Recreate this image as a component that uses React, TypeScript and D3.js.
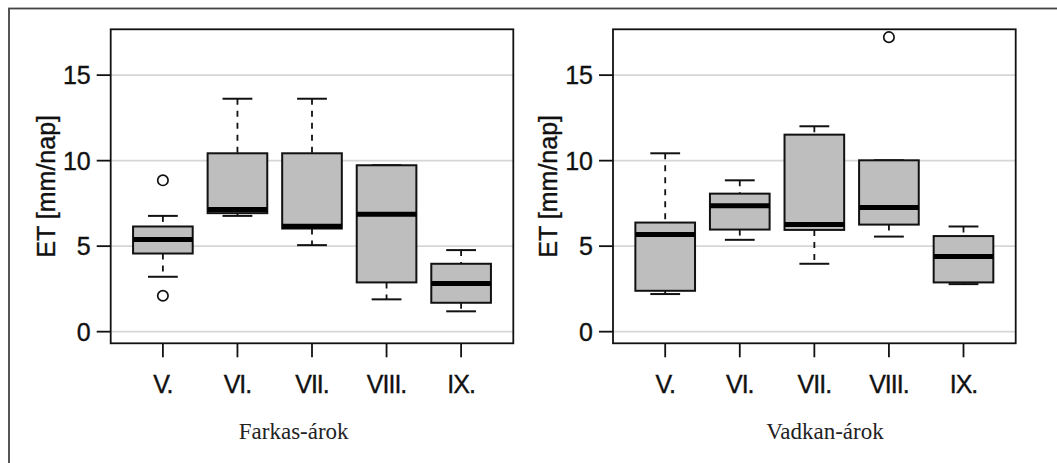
import React from 'react';
import * as d3 from 'd3';

// month categories and tick labels
const months = ['V.', 'VI.', 'VII.', 'VIII.', 'IX.'];
const yTicks = [0, 5, 10, 15];

// Farkas-árok boxplot stats
const farkasLow = [3.21, 6.77, 5.06, 1.89, 1.19];
const farkasQ1 = [4.57, 6.93, 6.03, 2.88, 1.69];
const farkasMed = [5.39, 7.14, 6.17, 6.87, 2.82];
const farkasQ3 = [6.15, 10.43, 10.43, 9.73, 3.97];
const farkasHigh = [6.77, 13.62, 13.62, 9.73, 4.77];
const farkasOut = [[2.1, 8.85], [], [], [], []];

// Vadkan-árok boxplot stats
const vadkanLow = [2.2, 5.37, 3.97, 5.56, 2.78];
const vadkanQ1 = [2.39, 5.97, 5.95, 6.26, 2.88];
const vadkanMed = [5.68, 7.36, 6.26, 7.26, 4.4];
const vadkanQ3 = [6.38, 8.07, 11.52, 10.02, 5.59];
const vadkanHigh = [10.43, 8.85, 12.01, 10.02, 6.15];
const vadkanOut = [[], [], [], [17.22], []];

const sans = '"Liberation Sans", Arial, Helvetica, sans-serif';
const serif = '"Liberation Serif", "Times New Roman", serif';

const top = 29.3;
const bottom = 343.3;
const ylim = [0, 17];
const pad = (ylim[1] - ylim[0]) * 0.04;
const y = d3.scaleLinear().domain([ylim[0] - pad, ylim[1] + pad]).range([bottom, top]);

type PanelProps = {
  left: number;
  right: number;
  title: string;
  titleX: number;
  low: number[];
  q1: number[];
  med: number[];
  q3: number[];
  high: number[];
  out: number[][];
};

const txt = { fontFamily: sans, fontSize: 25, fill: '#111', stroke: '#111', strokeWidth: 0.35 };

const Panel: React.FC<PanelProps> = ({ left, right, title, titleX, low, q1, med, q3, high, out }) => {
  // R style: at = 1..n, xlim 0.5..n+0.5 with 4% extension
  const x = d3.scaleLinear().domain([0.3, months.length + 0.7]).range([left, right]);
  const unit = x(1) - x(0);
  const boxW = 0.8 * unit;
  const capW = 0.4 * unit;

  return (
    <g>
      {/* grid */}
      {yTicks.map((t) => (
        <line key={'g' + t} x1={left} x2={right} y1={y(t)} y2={y(t)} stroke="#d6d6d6" strokeWidth={1.6} />
      ))}
      {months.map((m, i) => {
        const cx = x(i + 1);
        return (
          <g key={m}>
            {/* whiskers */}
            <line x1={cx} x2={cx} y1={y(high[i])} y2={y(q3[i])} stroke="#111" strokeWidth={1.8} strokeDasharray="6,6" />
            <line x1={cx} x2={cx} y1={y(q1[i])} y2={y(low[i])} stroke="#111" strokeWidth={1.8} strokeDasharray="6,6" />
            <line x1={cx - capW / 2} x2={cx + capW / 2} y1={y(high[i])} y2={y(high[i])} stroke="#111" strokeWidth={2} />
            <line x1={cx - capW / 2} x2={cx + capW / 2} y1={y(low[i])} y2={y(low[i])} stroke="#111" strokeWidth={2} />
            {/* box */}
            <rect
              x={cx - boxW / 2}
              y={y(q3[i])}
              width={boxW}
              height={y(q1[i]) - y(q3[i])}
              fill="#bebebe"
              stroke="#111"
              strokeWidth={2}
            />
            <line x1={cx - boxW / 2} x2={cx + boxW / 2} y1={y(med[i])} y2={y(med[i])} stroke="#000" strokeWidth={5} />
            {out[i].map((v, j) => (
              <circle key={j} cx={cx} cy={y(v)} r={5.2} fill="none" stroke="#111" strokeWidth={1.7} />
            ))}
            {/* x tick + label */}
            <line x1={cx} x2={cx} y1={bottom} y2={bottom + 14} stroke="#111" strokeWidth={1.8} />
            <text x={cx} y={393} textAnchor="middle" letterSpacing={-1} {...txt}>
              {m}
            </text>
          </g>
        );
      })}
      {/* y axis */}
      {yTicks.map((t) => (
        <g key={'t' + t}>
          <line x1={left - 14} x2={left} y1={y(t)} y2={y(t)} stroke="#111" strokeWidth={1.8} />
          <text x={left - 20} y={y(t)} dy="0.36em" textAnchor="end" {...txt}>
            {t}
          </text>
        </g>
      ))}
      <text
        transform={`translate(${left - 56},${(top + bottom) / 2}) rotate(-90)`}
        textAnchor="middle"
        {...txt}
      >
        ET [mm/nap]
      </text>
      {/* plot frame */}
      <rect x={left} y={top} width={right - left} height={bottom - top} fill="none" stroke="#111" strokeWidth={1.8} />
      <text x={titleX} y={439} textAnchor="middle" fontFamily={serif} fontSize={23} fill="#222">
        {title}
      </text>
    </g>
  );
};

export default function App() {
  return (
    <svg
      width={1057}
      height={463}
      style={{ position: 'absolute', left: 0, top: 0, background: '#fff' }}
    >
      <rect x={0} y={0} width={1057} height={463} fill="#fff" />
      {/* outer frame, cut off at right and bottom */}
      <rect x={9} y={8.5} width={1200} height={600} fill="none" stroke="#444" strokeWidth={1.8} />
      <Panel
        left={110.7}
        right={513.3}
        title="Farkas-árok"
        titleX={293.7}
        low={farkasLow}
        q1={farkasQ1}
        med={farkasMed}
        q3={farkasQ3}
        high={farkasHigh}
        out={farkasOut}
      />
      <Panel
        left={613}
        right={1015.7}
        title="Vadkan-árok"
        titleX={825}
        low={vadkanLow}
        q1={vadkanQ1}
        med={vadkanMed}
        q3={vadkanQ3}
        high={vadkanHigh}
        out={vadkanOut}
      />
    </svg>
  );
}
